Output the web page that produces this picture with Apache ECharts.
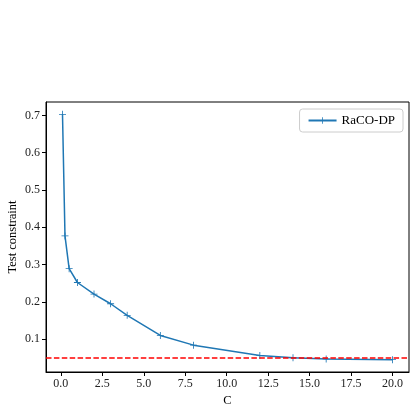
<!DOCTYPE html>
<html>
<head>
<meta charset="utf-8">
<script src="https://cdn.jsdelivr.net/npm/echarts@6/dist/echarts.min.js"></script>
<style>
html, body { margin: 0; padding: 0; background: #fff; }
#main { width: 416px; height: 412px; }
</style>
</head>
<body>
<div id="main"></div>
<script>
const cValues = [0.1, 0.25, 0.5, 1, 2, 3, 4, 6, 8, 12, 14, 16, 20];
const testConstraint = [0.703, 0.377, 0.289, 0.252, 0.221, 0.195, 0.164, 0.110, 0.084, 0.056, 0.050, 0.047, 0.045];
const threshold = 0.05;
const xTicks = [0, 2.5, 5, 7.5, 10, 12.5, 15, 17.5, 20];
const yTicks = [0.1, 0.2, 0.3, 0.4, 0.5, 0.6, 0.7];

const chart = echarts.init(document.getElementById('main'));
const font = 'Liberation Serif';
const plus = 'path://M4.4,0h1.2v4.4h4.4v1.2h-4.4v4.4h-1.2v-4.4h-4.4v-1.2h4.4z';

option = {
    animation: false,
    textStyle: { fontFamily: font },
    grid: {
        left: 46,
        right: 7,
        top: 102,
        bottom: 40,
        outerBoundsMode: 'none',
        containLabel: false,
        show: true,
        borderColor: '#000',
        borderWidth: 1
    },
    legend: {
        right: 13,
        top: 109,
        backgroundColor: '#fff',
        borderColor: '#cccccc',
        borderWidth: 1,
        borderRadius: 3,
        padding: [5, 8, 5, 8],
        itemWidth: 28,
        itemHeight: 8,
        itemGap: 6,
        textStyle: { fontFamily: font, fontSize: 13, color: '#000' },
        data: ['RaCO-DP']
    },
    xAxis: {
        type: 'value',
        min: -0.895,
        max: 20.995,
        name: 'C',
        nameLocation: 'middle',
        nameGap: 22,
        nameMoveOverlap: false,
        nameTextStyle: { fontFamily: font, fontSize: 12.5, color: '#000' },
        splitLine: { show: false },
        axisLine: { show: true, onZero: false, lineStyle: { color: '#000', width: 1 } },
        axisTick: { show: true, length: 4, customValues: xTicks, lineStyle: { color: '#000' } },
        axisLabel: {
            customValues: xTicks,
            color: '#222',
            fontSize: 12,
            margin: 6,
            formatter: function (v) { return v.toFixed(1); }
        }
    },
    yAxis: {
        type: 'value',
        min: 0.012,
        max: 0.736,
        name: 'Test constraint',
        nameLocation: 'middle',
        nameGap: 27,
        nameMoveOverlap: false,
        nameTextStyle: { fontFamily: font, fontSize: 12.5, color: '#000' },
        splitLine: { show: false },
        axisLine: { show: true, onZero: false, lineStyle: { color: '#000', width: 1 } },
        axisTick: { show: true, length: 4, customValues: yTicks, lineStyle: { color: '#000' } },
        axisLabel: {
            customValues: yTicks,
            color: '#222',
            fontSize: 12,
            margin: 6,
            formatter: function (v) { return v.toFixed(1); }
        }
    },
    series: [
        {
            name: 'RaCO-DP',
            type: 'line',
            data: cValues.map(function (c, i) { return [c, testConstraint[i]]; }),
            symbol: plus,
            symbolSize: 7,
            showAllSymbol: true,
            lineStyle: { color: '#1f77b4', width: 1.5 },
            itemStyle: { color: '#1f77b4' },
            markLine: {
                silent: true,
                symbol: 'none',
                label: { show: false },
                lineStyle: { color: '#ff0000', type: [5.5, 2.4], width: 1.5 },
                data: [{ yAxis: threshold }]
            },
            z: 3
        }
    ]
};
chart.setOption(option);
</script>
</body>
</html>
